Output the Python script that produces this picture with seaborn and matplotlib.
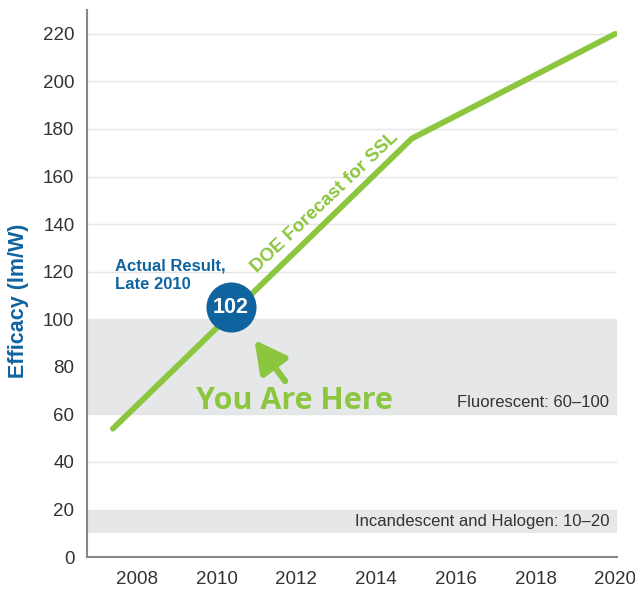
import matplotlib
matplotlib.use("Agg")
import pandas as pd
import seaborn as sns
from matplotlib import pyplot as plt

# SSL efficacy forecast
years = [2007.4, 2014.9, 2020.0]
efficacy = [54, 176, 220]

actual_year = 2010.35
actual_value = 105
actual_label = "102"

bands = [(60, 100, "Fluorescent: 60\u2013100"), (10, 20, "Incandescent and Halogen: 10\u201320")]

y_ticks = list(range(0, 221, 20))
x_ticks = list(range(2008, 2021, 2))

GREEN = "#8cc63f"
BLUE = "#0f64a0"
BAND = "#e6e7e9"
GRID = "#e4e5e7"
TEXT = "#333333"

sns.set_theme(style="white")
plt.rcParams["font.family"] = ["Liberation Sans", "DejaVu Sans"]

fig = plt.figure(figsize=(6.35, 5.92), dpi=100)
ax = fig.add_axes([0.137, 0.059, 0.835, 0.924])

df = pd.DataFrame({"year": years, "efficacy": efficacy})

# background bands and grid
for lo, hi, label in bands:
    ax.axhspan(lo, hi, color=BAND, zorder=0, lw=0)
    ax.text(2019.85, lo + 5, label, ha="right", va="center",
            fontsize=12, color=TEXT, zorder=3)
for v in y_ticks[1:]:
    ax.axhline(v, color=GRID, lw=1, zorder=0.5)

sns.lineplot(data=df, x="year", y="efficacy", ax=ax, color=GREEN, lw=4.2,
             solid_capstyle="round", solid_joinstyle="miter", zorder=2)

ax.scatter([actual_year], [actual_value], s=1300, color=BLUE, zorder=4, lw=0)
ax.text(actual_year, actual_value, actual_label, ha="center", va="center",
        color="white", fontsize=15.5, fontweight="bold", zorder=5)

ax.text(2007.45, 118.5, "Actual Result,\nLate 2010", ha="left", va="center",
        color=BLUE, fontsize=12, fontweight="bold", linespacing=1.3)

ax.text(2012.72, 149, "DOE Forecast for SSL", rotation=43.5, rotation_mode="anchor",
        ha="center", va="center", color=GREEN, fontsize=13.5, fontweight="bold")

ax.annotate("", xy=(2010.95, 91.3), xytext=(2011.72, 74.0),
            arrowprops=dict(arrowstyle="-|>,head_width=0.5,head_length=0.95",
                            mutation_scale=20, color=GREEN, lw=4.5, capstyle="round",
                            shrinkA=0, shrinkB=0), zorder=4)
ax.text(2011.95, 65.5, "You Are Here", ha="center", va="center", color=GREEN,
        fontsize=22, fontweight="bold", family=["Open Sans", "DejaVu Sans"])

ax.set_xlim(2006.75, 2020.05)
ax.set_ylim(0, 230)
ax.set_xticks(x_ticks)
ax.set_yticks(y_ticks)
ax.tick_params(axis="x", direction="in", length=10, width=1, color="#888888",
               labelsize=13.5, labelcolor=TEXT, pad=10)
ax.tick_params(axis="y", length=0, labelsize=13.5, labelcolor=TEXT, pad=9)
for side in ["top", "right"]:
    ax.spines[side].set_visible(False)
for side in ["left", "bottom"]:
    ax.spines[side].set_color("#888888")
    ax.spines[side].set_linewidth(1.5)

ax.set_xlabel("")
ax.set_ylabel("Efficacy (lm/W)", color=BLUE, fontsize=15.5, fontweight="bold")
ax.yaxis.set_label_coords(-0.11, 0.468)

fig.savefig("out.png", dpi=100)
